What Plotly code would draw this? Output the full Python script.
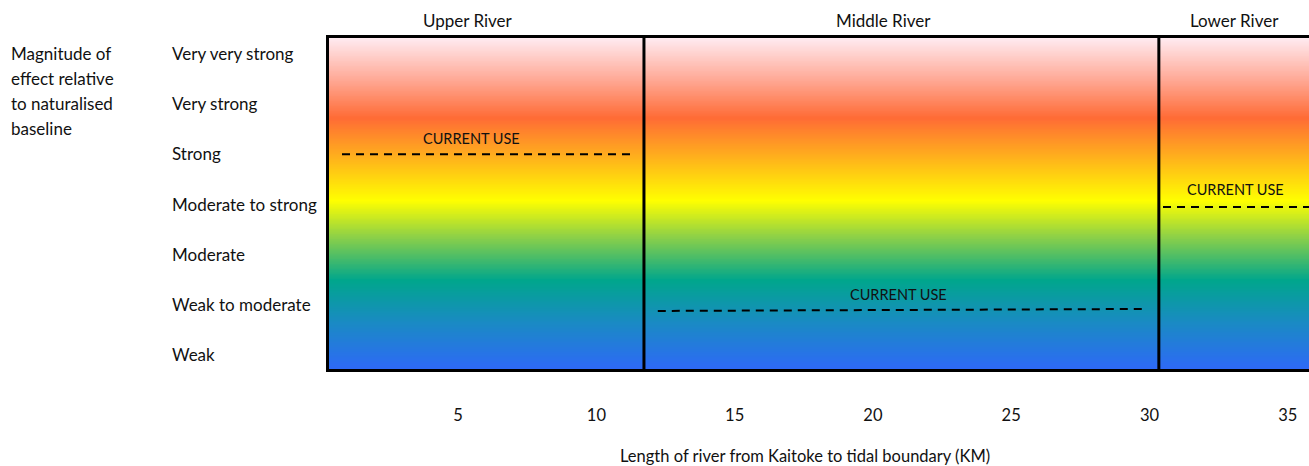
import numpy as np
import plotly.graph_objects as go

# ---- data ----
levels = ["Weak", "Weak to moderate", "Moderate", "Moderate to strong",
          "Strong", "Very strong", "Very very strong"]
level_values = [0, 1, 2, 3, 4, 5, 6]
tick_km = [5, 10, 15, 20, 25, 30, 35]
reach_names = ["Upper River", "Middle River", "Lower River"]
reach_label_x = [5.36, 20.4, 33.06]
reach_bounds = [11.72, 30.34]
x_range = [0.33, 35.77]
y_range = [-0.28, 6.30]

cu_x_start = [0.8, 12.22, 30.49]
cu_x_end = [11.28, 29.9, 35.77]
cu_y_start = [3.99, 0.874, 2.94]
cu_y_end = [3.99, 0.914, 2.94]
cu_label_x = [5.5, 20.94, 33.1]
cu_label_y = [4.31, 1.21, 3.28]

y_axis_title = ["Magnitude of", "effect relative", "to naturalised", "baseline"]

FONT = "Lato"
TXT = "#111111"

fig = go.Figure()

# gradient background
gy = np.linspace(y_range[0], y_range[1], 200)
gz = [[v, v] for v in gy]
colorscale = [
    [0.00, "#2E69F7"],
    [0.14, "#1A8AC4"],
    [0.27, "#00A68C"],
    [0.40, "#8CD048"],
    [0.51, "#FFFF00"],
    [0.64, "#FFB11C"],
    [0.76, "#FF6B35"],
    [0.88, "#FFAB99"],
    [1.00, "#FFEAF0"],
]
fig.add_trace(go.Heatmap(
    x=[x_range[0] - 1, x_range[1] + 1], y=gy, z=gz,
    colorscale=colorscale, showscale=False, zsmooth="best",
    zmin=y_range[0], zmax=y_range[1], hoverinfo="skip"))

# current use dashed lines
for xs, xe, ys, ye in zip(cu_x_start, cu_x_end, cu_y_start, cu_y_end):
    fig.add_trace(go.Scatter(x=[xs, xe], y=[ys, ye], mode="lines",
                             line=dict(color="black", width=2, dash="8px,6px"),
                             showlegend=False, hoverinfo="skip"))

# reach boundaries
for b in reach_bounds:
    fig.add_shape(type="line", xref="x", yref="y", x0=b, x1=b,
                  y0=y_range[0], y1=y_range[1],
                  line=dict(color="black", width=3))

annotations = []
for name, x in zip(reach_names, reach_label_x):
    annotations.append(dict(x=x, y=1.054, xref="x", yref="paper", text=name,
                            yanchor="middle",
                            showarrow=False, font=dict(family=FONT, size=17, color=TXT)))
for x, y in zip(cu_label_x, cu_label_y):
    annotations.append(dict(x=x, y=y, xref="x", yref="y", text="CURRENT USE",
                            showarrow=False, font=dict(family=FONT, size=14.5, color=TXT)))
for lab, v in zip(levels, level_values):
    annotations.append(dict(x=-0.162, y=v, xref="paper", yref="y", text=lab,
                            xanchor="left", showarrow=False,
                            font=dict(family=FONT, size=17, color=TXT)))
for i, line in enumerate(y_axis_title):
    annotations.append(dict(x=-0.327, y=6 - i * 25 / 50.33, xref="paper", yref="y",
                            text=line, xanchor="left", showarrow=False,
                            font=dict(family=FONT, size=17, color=TXT)))
annotations.append(dict(x=17.54, y=-0.263, xref="x", yref="paper",
                        text="Length of river from Kaitoke to tidal boundary (KM)",
                        showarrow=False, yanchor="middle",
                        font=dict(family=FONT, size=16.5, color=TXT)))

fig.update_layout(
    width=1309, height=466,
    margin=dict(l=329, r=0, t=38, b=97),
    paper_bgcolor="white", plot_bgcolor="white",
    annotations=annotations,
    showlegend=False,
    xaxis=dict(range=x_range, tickvals=tick_km, ticktext=[str(t) for t in tick_km],
               showgrid=False, zeroline=False, showline=True, linecolor="black",
               linewidth=3, mirror=True, ticks="", ticklabelstandoff=29,
               tickfont=dict(family=FONT, size=16.5, color=TXT)),
    yaxis=dict(range=y_range, showticklabels=False, showgrid=False, zeroline=False,
               showline=True, linecolor="black", linewidth=3, ticks=""),
)

fig.write_html("out.html", config={"displayModeBar": False},
               post_script="document.body.style.margin='0';document.body.style.overflow='hidden';")
